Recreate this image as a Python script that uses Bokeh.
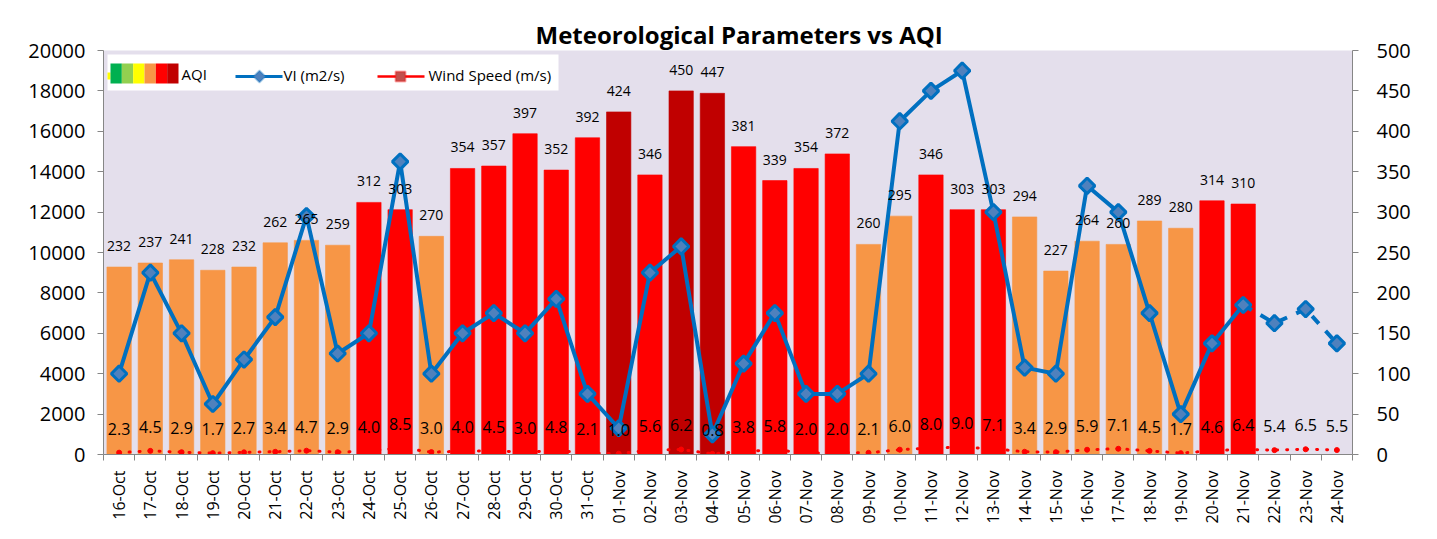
import math
from bokeh.plotting import figure
from bokeh.models import (Range1d, LinearAxis, FixedTicker, ColumnDataSource, LabelSet,
                          Label, BoxAnnotation, PolyAnnotation, Arrow, Title)
from bokeh.core.properties import value
from bokeh.embed import file_html
from bokeh.resources import INLINE

# ---------------- data ----------------
dates = ["16-Oct", "17-Oct", "18-Oct", "19-Oct", "20-Oct", "21-Oct", "22-Oct", "23-Oct",
         "24-Oct", "25-Oct", "26-Oct", "27-Oct", "28-Oct", "29-Oct", "30-Oct", "31-Oct",
         "01-Nov", "02-Nov", "03-Nov", "04-Nov", "05-Nov", "06-Nov", "07-Nov", "08-Nov",
         "09-Nov", "10-Nov", "11-Nov", "12-Nov", "13-Nov", "14-Nov", "15-Nov", "16-Nov",
         "17-Nov", "18-Nov", "19-Nov", "20-Nov", "21-Nov", "22-Nov", "23-Nov", "24-Nov"]

aqi = [232, 237, 241, 228, 232, 262, 265, 259, 312, 303, 270, 354, 357, 397, 352, 392,
       424, 346, 450, 447, 381, 339, 354, 372, 260, 295, 346, 303, 303, 294, 227, 264,
       260, 289, 280, 314, 310]

vi = [4000, 9000, 6000, 2500, 4700, 6800, 11800, 5000, 6000, 14500, 4000, 6000, 7000,
      6000, 7700, 3000, 1300, 9000, 10300, 1000, 4500, 7000, 3000, 3000, 4000, 16500,
      18000, 19000, 12000, 4300, 4000, 13300, 12000, 7000, 2000, 5500, 7400, 6500, 7200,
      5500]

wind = [2.3, 4.5, 2.9, 1.7, 2.7, 3.4, 4.7, 2.9, 4.0, 8.5, 3.0, 4.0, 4.5, 3.0, 4.8, 2.1,
        1.0, 5.6, 6.2, 0.8, 3.8, 5.8, 2.0, 2.0, 2.1, 6.0, 8.0, 9.0, 7.1, 3.4, 2.9, 5.9,
        7.1, 4.5, 1.7, 4.6, 6.4, 5.4, 6.5, 5.5]

observed_days = len(aqi)  # VI is forecast (dashed) after the last AQI observation

left_ticks = list(range(0, 20001, 2000))
right_ticks = list(range(0, 501, 50))

# ---------------- styles ----------------
FONT = "Open Sans"
ORANGE, RED, DARKRED = "#F79646", "#FF0000", "#C00000"
BLUE, BLUE_FILL = "#0070C0", "#4F81BD"
AXIS_GREY = "#868686"
legend_colors = ["#00B050", "#92D050", "#FFFF00", ORANGE, RED, DARKRED]


def aqi_color(v):
    if v > 400:
        return DARKRED
    if v > 300:
        return RED
    return ORANGE


xs = list(range(len(dates)))

p = figure(width=1421, height=530, output_backend="svg", toolbar_location=None,
           x_range=Range1d(-0.5, len(dates) - 0.5), y_range=Range1d(0, 20000),
           min_border_left=103, min_border_right=69, min_border_top=50, min_border_bottom=76)
p.extra_y_ranges = {"aqi": Range1d(0, 500)}
p.background_fill_color = "#E4DFEC"
p.border_fill_color = "white"
p.outline_line_color = None
p.grid.visible = False

p.title = Title(text="Meteorological Parameters vs AQI", align="left", offset=432,
                text_font=FONT, text_font_size="24px", text_font_style="bold",
                text_color="black", standoff=0)

# bars (AQI, right axis)
bar_src = ColumnDataSource(dict(x=xs[:observed_days], aqi=aqi,
                                color=[aqi_color(v) for v in aqi],
                                lbl=[str(v) for v in aqi]))
p.vbar(x="x", top="aqi", width=0.78, source=bar_src, y_range_name="aqi",
       fill_color="color", line_color="color", line_alpha=0.6)
p.add_layout(LabelSet(x="x", y="aqi", text="lbl", source=bar_src, y_range_name="aqi",
                      y_offset=21, text_align="center", text_baseline="middle",
                      text_font=value(FONT), text_font_size="14px", text_color="black"))

# wind speed (right axis, near zero)
wind_src = ColumnDataSource(dict(x=xs, w=wind, lbl=["%.1f" % v for v in wind]))
p.line("x", "w", source=wind_src, y_range_name="aqi", line_color=RED, line_width=3,
       line_dash="1 9", line_cap="round")
p.scatter("x", "w", source=wind_src, y_range_name="aqi", marker="circle", size=5,
          fill_color=RED, line_color=RED)
p.add_layout(LabelSet(x="x", y="w", text="lbl", source=wind_src, y_range_name="aqi",
                      y_offset=24, text_align="center", text_baseline="middle",
                      text_font=value(FONT), text_font_size="16px", text_color="black"))

# VI line (left axis)
n0 = observed_days
p.line(xs[:n0], vi[:n0], line_color=BLUE, line_width=4, line_join="round")
p.line(xs[n0 - 1:], vi[n0 - 1:], line_color=BLUE, line_width=4, line_dash="10 10")
p.scatter(xs, vi, marker="square", angle=math.pi / 4, size=11,
          fill_color=BLUE_FILL, line_color=BLUE, line_width=3)

# axes
yl = p.yaxis[0]
yl.ticker = FixedTicker(ticks=left_ticks)
yr = LinearAxis(y_range_name="aqi", ticker=FixedTicker(ticks=right_ticks))
p.add_layout(yr, "right")
for ax in (yl, yr):
    ax.axis_line_color = AXIS_GREY
    ax.major_tick_line_color = AXIS_GREY
    ax.major_tick_out = 6
    ax.major_tick_in = 0
    ax.minor_tick_line_color = None
    ax.major_label_text_font = FONT
    ax.major_label_text_font_size = "20px"
    ax.major_label_text_color = "black"
yl.major_label_standoff = 12
yr.major_label_standoff = 18

xa = p.xaxis[0]
xa.ticker = FixedTicker(ticks=xs, minor_ticks=[i - 0.5 for i in range(len(dates) + 1)])
xa.major_label_overrides = {i: d for i, d in enumerate(dates)}
xa.major_label_orientation = math.pi / 2
xa.axis_line_color = AXIS_GREY
xa.major_tick_line_color = None
xa.major_tick_out = 0
xa.major_tick_in = 0
xa.minor_tick_line_color = AXIS_GREY
xa.minor_tick_out = 6
xa.minor_tick_in = 0
xa.major_label_text_font = FONT
xa.major_label_text_font_size = "16px"
xa.major_label_text_color = "black"
xa.major_label_standoff = 10


# legend (manual, screen units relative to plot frame)
def sbox(l, r, b, t, **kw):
    return BoxAnnotation(left=l, right=r, bottom=b, top=t,
                         left_units="screen", right_units="screen",
                         bottom_units="screen", top_units="screen", **kw)


p.add_layout(sbox(4, 455, 364, 400, fill_color="white", fill_alpha=1, line_color=None))
p.add_layout(sbox(4, 7, 375, 382, fill_color="#FFFF00", fill_alpha=1, line_color=None))
seg = 68 / len(legend_colors)
for i, c in enumerate(legend_colors):
    p.add_layout(sbox(7 + i * seg, 7 + (i + 1) * seg, 371, 391,
                      fill_color=c, fill_alpha=1, line_color=None))
p.add_layout(Label(x=78, y=381, x_units="screen", y_units="screen", text="AQI",
                   text_baseline="middle", text_font=FONT, text_font_size="15px",
                   text_color="black"))

p.add_layout(Arrow(end=None, x_start=132, y_start=378, x_end=179, y_end=378,
                   start_units="screen", end_units="screen",
                   line_color=BLUE, line_width=3))
p.add_layout(PolyAnnotation(xs=[156, 162, 156, 150], ys=[384, 378, 372, 378],
                            xs_units="screen", ys_units="screen",
                            fill_color=BLUE_FILL, fill_alpha=1, line_color=BLUE, line_width=2))
p.add_layout(Label(x=180, y=380, x_units="screen", y_units="screen", text="VI (m2/s)",
                   text_baseline="middle", text_font=FONT, text_font_size="15px",
                   text_color="black"))

p.add_layout(Arrow(end=None, x_start=274, y_start=378, x_end=321, y_end=378,
                   start_units="screen", end_units="screen",
                   line_color=RED, line_width=2.5))
p.add_layout(sbox(292, 302, 373, 383, fill_color="#C0504D", fill_alpha=1,
                  line_color=RED, line_width=2))
p.add_layout(Label(x=325, y=380, x_units="screen", y_units="screen", text="Wind Speed (m/s)",
                   text_baseline="middle", text_font=FONT, text_font_size="15px",
                   text_color="black"))

open("out.html", "w").write(file_html(p, INLINE))
